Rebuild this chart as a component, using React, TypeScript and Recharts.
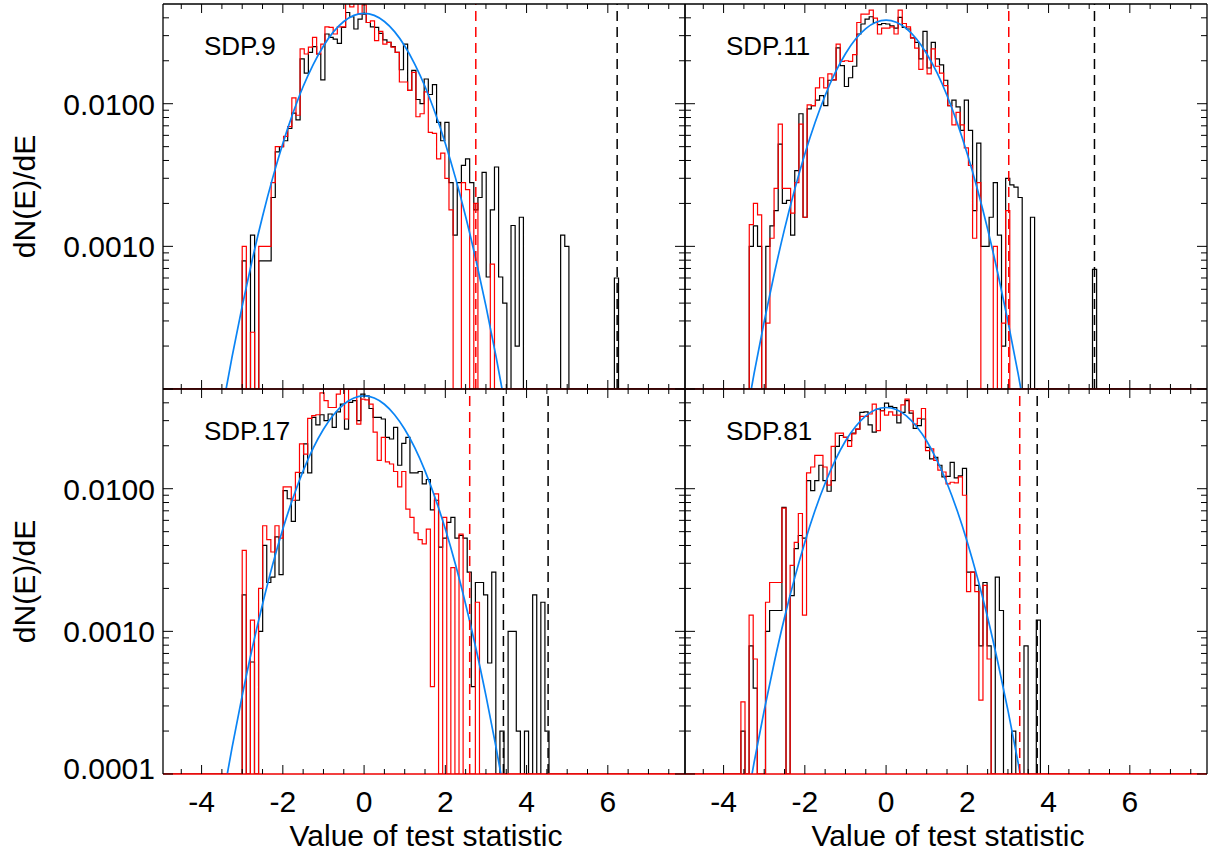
import { ComposedChart, Line, XAxis, YAxis, ReferenceLine } from 'recharts';

// figure geometry
const FIG_W = 1209;
const FIG_H = 853;
const PLOT_LEFT = 163;
const PLOT_TOP = 4;
const PLOT_W = 522;
const PLOT_H = 385;
const AX = 1; // axes need a non-zero size to render
const FONT = '"Liberation Sans", Arial, Helvetica, sans-serif';

const X_MIN = -4.95;
const X_MAX = 7.9;
const Y_MIN = 0.0001;
const Y_MAX = 0.05;
const FLOOR = 0.0001;

const X_TICKS = [-4.5, -4, -3.5, -3, -2.5, -2, -1.5, -1, -0.5, 0, 0.5, 1, 1.5, 2, 2.5, 3, 3.5, 4, 4.5, 5, 5.5, 6, 6.5, 7, 7.5];
const Y_TICKS = [
  0.0001, 0.0002, 0.0003, 0.0004, 0.0005, 0.0006, 0.0007, 0.0008, 0.0009,
  0.001, 0.002, 0.003, 0.004, 0.005, 0.006, 0.007, 0.008, 0.009,
  0.01, 0.02, 0.03, 0.04,
];

// x positions of the fitted curve
const FIT_X = [-3.5, -3.25, -3, -2.75, -2.5, -2.25, -2, -1.75, -1.5, -1.25, -1, -0.75, -0.5, -0.25, 0, 0.25, 0.5, 0.75, 1, 1.25, 1.5, 1.75, 2, 2.25, 2.5, 2.75, 3, 3.25, 3.5];

// ---- SDP.9 ----
const tlStart = -3.0;
const tlBin = 0.1018;
const tlBlack = [
  0.00079, 0, 0.0012, 0, 0.00079, 0.00079, 0.00079, 0.0022, 0.0046, 0.005,
  0.0055, 0.0067, 0.0086, 0.0077, 0.0206, 0.0164, 0.0229, 0.0251, 0.0223, 0.0147,
  0.0308, 0.0292, 0.0284, 0.0265, 0.0343, 0.0436, 0.0407, 0.0334, 0.0392, 0.0425,
  0.0371, 0.0346, 0.0343, 0.0311, 0.028, 0.0269, 0.0251, 0.0229, 0.0173, 0.0262,
  0.0124, 0.0171, 0.0107, 0.01, 0.0149, 0.0116, 0.0136, 0.0074, 0.0055, 0.0074,
  0.0028, 0.0012, 0.0028, 0.0037, 0.0041, 0.0028, 0.0018, 0.0022, 0.0033, 0.00061,
  0.0018, 0.0036, 0.00061, 0.0004, 0, 0.0014, 0.0002, 0.0016, 0, 0,
  0, 0, 0, 0, 0, 0, 0, 0.0012, 0.001, 0,
  0, 0, 0, 0, 0, 0, 0, 0, 0, 0, 0.0006,
];
const tlRed = [
  0.001, 0, 0.00025, 0, 0.001, 0.001, 0.001, 0.0028, 0.005, 0.005,
  0.0059, 0.0069, 0.011, 0.0083, 0.0242, 0.0223, 0.0249, 0.0292, 0.0223, 0.0262,
  0.0346, 0.0343, 0.0308, 0.0346, 0.0346, 0.0512, 0.0478, 0.055, 0.0425, 0.0493,
  0.0371, 0.0381, 0.0277, 0.0321, 0.0262, 0.0269, 0.0249, 0.0229, 0.0142, 0.0142,
  0.0124, 0.0166, 0.0081, 0.0085, 0.0121, 0.0063, 0.0062, 0.0041, 0.0045, 0.003,
  0.0018, 0, 0, 0.0028, 0.0025, 0, 0.002, 0, 0, 0,
  0.00075,
];
const tlFit = [
  0.0000693, 0.000168, 0.000381, 0.000812, 0.00162, 0.00302, 0.00527, 0.0086, 0.0132, 0.0189,
  0.0254, 0.032, 0.0377, 0.0416, 0.043, 0.0416, 0.0377, 0.032, 0.0254, 0.0189,
  0.0132, 0.0086, 0.00527, 0.00302, 0.00162, 0.000812, 0.000381, 0.000168, 0.0000693,
];

// ---- SDP.11 ----
const trStart = -3.368;
const trBin = 0.1018;
const trBlack = [
  0.001, 0.00139, 0.001, 0, 0.001, 0.00139, 0.00178, 0.0052, 0.002, 0.0021,
  0.0012, 0.0034, 0.0085, 0.0016, 0.0092, 0.0097, 0.0106, 0.0114, 0.0097, 0.0146,
  0.0147, 0.0246, 0.0185, 0.0132, 0.0152, 0.0183, 0.0308, 0.0362, 0.0392, 0.0407,
  0.0371, 0.0358, 0.0365, 0.0362, 0.0352, 0.0339, 0.0403, 0.0343, 0.0334, 0.0289,
  0.0269, 0.0206, 0.0321, 0.0178, 0.0269, 0.0206, 0.0187, 0.0146, 0.0097, 0.0106,
  0.0095, 0.0065, 0.0106, 0.0065, 0.00178, 0.0053, 0.001, 0.001, 0.0016, 0.0028,
  0.0012, 0.0002, 0.003, 0.0027, 0.0026, 0.0022, 0, 0, 0.0016, 0,
  0, 0, 0, 0, 0, 0, 0, 0, 0, 0,
  0, 0, 0, 0.00069,
];
const trRed = [
  0.00142, 0.002, 0.00166, 0, 0.00029, 0.00114, 0.00255, 0.0072, 0.00255, 0.00255,
  0.00171, 0.0028, 0.0072, 0.0016, 0.0098, 0.0097, 0.0129, 0.0152, 0.0129, 0.0162,
  0.0147, 0.0262, 0.0198, 0.02, 0.0198, 0.0221, 0.0371, 0.0425, 0.0425, 0.0453,
  0.0398, 0.0308, 0.0339, 0.0339, 0.0346, 0.0308, 0.0453, 0.0365, 0.0346, 0.0289,
  0.0245, 0.0174, 0.0236, 0.0162, 0.0242, 0.0183, 0.0164, 0.0134, 0.0097, 0.0071,
  0.0087, 0.0071, 0.0049, 0.0037, 0.00114, 0.0028, 0, 0, 0, 0.001,
  0, 0.00029, 0.00178,
];
const trFit = [
  0.0000515, 0.000128, 0.000298, 0.000648, 0.00132, 0.0025, 0.00444, 0.00736, 0.01142, 0.01655,
  0.0224, 0.0284, 0.0336, 0.0372, 0.0385, 0.0372, 0.0336, 0.0284, 0.0224, 0.01655,
  0.01142, 0.00736, 0.00444, 0.0025, 0.00132, 0.000648, 0.000298, 0.000128, 0.0000515,
];

// ---- SDP.17 ----
const blStart = -3.0;
const blBin = 0.1007;
const blBlack = [
  0.0018, 0, 0.00061, 0, 0.001, 0.004, 0.0022, 0.0024, 0.0046, 0.0025,
  0.0097, 0.0085, 0.0059, 0.0083, 0.0129, 0.0206, 0.0129, 0.0316, 0.028, 0.033,
  0.03, 0.0334, 0.0269, 0.0346, 0.0392, 0.0262, 0.0403, 0.0415, 0.03, 0.046,
  0.0448, 0.0365, 0.0316, 0.0316, 0.0308, 0.0229, 0.0223, 0.0269, 0.0146, 0.0208,
  0.0229, 0.0129, 0.0129, 0.0132, 0.0108, 0.0116, 0.0071, 0.0083, 0.0039, 0.0045,
  0.0058, 0.0063, 0.0045, 0.0047, 0.0045, 0.0026, 0.00041, 0.0022, 0.0022, 0.0018,
  0.0006, 0.0026, 0, 0.0002, 0, 0.001, 0.001, 0.0002, 0, 0.0002,
  0, 0.0018, 0, 0.0016, 0.0002,
];
const blRed = [
  0.0037, 0, 0.0012, 0, 0.002, 0.0055, 0.0044, 0.0036, 0.0055, 0.0045,
  0.0103, 0.0103, 0.0083, 0.013, 0.0206, 0.0175, 0.0311, 0.0325, 0.033, 0.047,
  0.0415, 0.0371, 0.0371, 0.046, 0.0512, 0.0308, 0.05, 0.055, 0.0284, 0.0425,
  0.042, 0.0392, 0.0249, 0.0158, 0.0229, 0.0154, 0.0149, 0.0132, 0.0103, 0.0132,
  0.0072, 0.0063, 0.0049, 0.0044, 0.0041, 0.0052, 0.00041, 0.0092, 0, 0.0063,
  0, 0.0028, 0, 0.0048, 0, 0, 0, 0.0016,
];
const blFit = [
  0.0000619, 0.000153, 0.000354, 0.000768, 0.00155, 0.00294, 0.00521, 0.00862, 0.01334, 0.0193,
  0.0261, 0.033, 0.0391, 0.0432, 0.0447, 0.0432, 0.0391, 0.033, 0.0261, 0.0193,
  0.01334, 0.00862, 0.00521, 0.00294, 0.00155, 0.000768, 0.000354, 0.000153, 0.0000619,
];

// ---- SDP.81 ----
const brStart = -3.574;
const brBin = 0.101;
const brBlack = [
  0.0002, 0, 0.00079, 0.0004, 0, 0, 0.001, 0.0014, 0.0014, 0.0014,
  0.0074, 0, 0.00178, 0.0038, 0.0047, 0.0045, 0.0114, 0.0097, 0.0114, 0.0146,
  0.0114, 0.0096, 0.0114, 0.0198, 0.0236, 0.0229, 0.0217, 0.0245, 0.0262, 0.0343,
  0.0346, 0.028, 0.0249, 0.0362, 0.0352, 0.0398, 0.0378, 0.0371, 0.0289, 0.0343,
  0.0415, 0.0339, 0.0265, 0.0277, 0.0308, 0.0195, 0.0162, 0.0166, 0.0146, 0.0121,
  0.0122, 0.0153, 0.0119, 0.0123, 0.0139, 0.0026, 0.0026, 0.0021, 0.00079, 0.0022,
  0.00079, 0, 0.0024, 0.0014, 0, 0, 0.0002, 0, 0, 0.00079,
  0, 0, 0.0012,
];
const brRed = [
  0.00032, 0, 0.0013, 0.00064, 0, 0, 0.0016, 0.0022, 0.0022, 0.0022,
  0.0073, 0, 0.0029, 0.0042, 0.0067, 0.0013, 0.0129, 0.0142, 0.0171, 0.0171,
  0.0142, 0.0106, 0.0198, 0.0245, 0.0245, 0.0229, 0.0198, 0.0242, 0.0262, 0.0321,
  0.0321, 0.0334, 0.0392, 0.0255, 0.0352, 0.0328, 0.0346, 0.0328, 0.0328, 0.0387,
  0.0425, 0.0352, 0.0284, 0.0311, 0.0365, 0.0185, 0.019, 0.0158, 0.0135, 0.0131,
  0.0108, 0.0111, 0.011, 0.0121, 0.009, 0.0019, 0.0026, 0.0019, 0.00033, 0.0021,
  0.00064,
];
const brFit = [
  0.0000478, 0.00012, 0.000279, 0.00061, 0.00125, 0.00237, 0.00422, 0.00703, 0.01093, 0.01588,
  0.0216, 0.0273, 0.0324, 0.0359, 0.0371, 0.0359, 0.0324, 0.0273, 0.0216, 0.01588,
  0.01093, 0.00703, 0.00422, 0.00237, 0.00125, 0.00061, 0.000279, 0.00012, 0.0000478,
];

const panels = [
  { name: 'SDP.9', col: 0, row: 0, start: tlStart, bin: tlBin, black: tlBlack, red: tlRed, fit: tlFit, redCuts: [2.75], blackCuts: [6.23] },
  { name: 'SDP.11', col: 1, row: 0, start: trStart, bin: trBin, black: trBlack, red: trRed, fit: trFit, redCuts: [3.02], blackCuts: [5.13] },
  { name: 'SDP.17', col: 0, row: 1, start: blStart, bin: blBin, black: blBlack, red: blRed, fit: blFit, redCuts: [2.6], blackCuts: [3.43, 4.53] },
  { name: 'SDP.81', col: 1, row: 1, start: brStart, bin: brBin, black: brBlack, red: brRed, fit: brFit, redCuts: [3.29], blackCuts: [3.72] },
];

function histRows(start: number, bin: number, vals: number[]) {
  const rows = [{ x: X_MIN, v: FLOOR }];
  vals.forEach((v, i) => rows.push({ x: start + i * bin, v: Math.max(v, FLOOR) }));
  rows.push({ x: start + vals.length * bin, v: FLOOR });
  rows.push({ x: X_MAX, v: FLOOR });
  return rows;
}

const frame = { stroke: '#000', strokeWidth: 1.3 };
// the empty red bins run along the bottom edge
const bottomFrame = { stroke: '#ee0000', strokeWidth: 1.3 };

function xTick(side: 'bottom' | 'top', showLabel: boolean) {
  return (p: any) => {
    const v = p.payload.value;
    const major = Math.abs(v % 2) < 1e-6;
    const len = major ? 9 : 5;
    const dir = side === 'bottom' ? -1 : 1;
    return (
      <g>
        <line x1={p.x} x2={p.x} y1={p.y} y2={p.y + dir * len} stroke="#000" strokeWidth={1} />
        {showLabel && major && (
          <text x={p.x} y={p.y + 38} textAnchor="middle" fontSize={30} fontFamily={FONT} fill="#000">{String(v)}</text>
        )}
      </g>
    );
  };
}

function yTick(side: 'left' | 'right', labels: number[]) {
  return (p: any) => {
    const v = p.payload.value;
    const lg = Math.log10(v);
    const major = Math.abs(lg - Math.round(lg)) < 1e-6;
    const len = major ? 10 : 6;
    const dir = side === 'left' ? 1 : -1;
    const show = labels.some(l => Math.abs(l - v) < 1e-9);
    // the lowest label sits a little above its tick
    const dy = v < 0.0002 ? 5 : 11;
    return (
      <g>
        <line x1={p.x} x2={p.x + dir * len} y1={p.y} y2={p.y} stroke="#000" strokeWidth={1} />
        {show && (
          <text x={p.x - 8} y={p.y + dy} textAnchor="end" fontSize={30} fontFamily={FONT} fill="#000">{v.toFixed(4)}</text>
        )}
      </g>
    );
  };
}

function Panel({ p }: { p: typeof panels[number] }) {
  const left = PLOT_LEFT + p.col * PLOT_W;
  const top = PLOT_TOP + p.row * PLOT_H;
  const margin = {
    left: left - AX,
    top: top - AX,
    right: FIG_W - left - PLOT_W - AX,
    bottom: FIG_H - top - PLOT_H - AX,
  };
  const blackRows = histRows(p.start, p.bin, p.black);
  const redRows = histRows(p.start, p.bin, p.red);
  const fitRows = FIT_X.map((x, i) => ({ x, v: p.fit[i] }));
  const yLabels = p.col === 0 ? (p.row === 1 ? [0.0001, 0.001, 0.01] : [0.001, 0.01]) : [];

  return (
    <div style={{ position: 'absolute', left: 0, top: 0 }}>
      <ComposedChart width={FIG_W} height={FIG_H} margin={margin}>
        <XAxis xAxisId="b" orientation="bottom" dataKey="x" type="number" domain={[X_MIN, X_MAX]} allowDataOverflow
          ticks={X_TICKS} interval={0} height={AX} tickSize={0} tickMargin={0} tickLine={false} axisLine={bottomFrame}
          tick={xTick('bottom', p.row === 1)} />
        <XAxis xAxisId="t" orientation="top" dataKey="x" type="number" domain={[X_MIN, X_MAX]} allowDataOverflow
          ticks={X_TICKS} interval={0} height={AX} tickSize={0} tickMargin={0} tickLine={false} axisLine={frame}
          tick={xTick('top', false)} />
        <YAxis yAxisId="l" orientation="left" type="number" scale="log" domain={[Y_MIN, Y_MAX]} allowDataOverflow
          ticks={Y_TICKS} interval={0} width={AX} tickSize={0} tickMargin={0} tickLine={false} axisLine={frame}
          tick={yTick('left', yLabels)} />
        <YAxis yAxisId="r" orientation="right" type="number" scale="log" domain={[Y_MIN, Y_MAX]} allowDataOverflow
          ticks={Y_TICKS} interval={0} width={AX} tickSize={0} tickMargin={0} tickLine={false} axisLine={frame}
          tick={yTick('right', [])} />
        <Line xAxisId="b" yAxisId="l" data={blackRows} dataKey="v" type="stepAfter" stroke="#000" strokeWidth={1.2}
          dot={false} activeDot={false} isAnimationActive={false} />
        <Line xAxisId="b" yAxisId="l" data={redRows} dataKey="v" type="stepAfter" stroke="#ff0000" strokeWidth={1.2}
          dot={false} activeDot={false} isAnimationActive={false} />
        <Line xAxisId="b" yAxisId="l" data={fitRows} dataKey="v" type="monotone" stroke="#0a84f5" strokeWidth={1.7}
          dot={false} activeDot={false} isAnimationActive={false} />
        {p.redCuts.map(c => (
          <ReferenceLine key={'r' + c} xAxisId="b" yAxisId="l" x={c} stroke="#ff0000" strokeWidth={1.5} strokeDasharray="10 6" />
        ))}
        {p.blackCuts.map(c => (
          <ReferenceLine key={'k' + c} xAxisId="b" yAxisId="l" x={c} stroke="#000" strokeWidth={1.5} strokeDasharray="10 6" />
        ))}
      </ComposedChart>
    </div>
  );
}

export default function App() {
  return (
    <div style={{ position: 'absolute', left: 0, top: 0, width: FIG_W, height: FIG_H, background: '#fff', overflow: 'hidden' }}>
      {panels.map(p => <Panel key={p.name} p={p} />)}
      <svg width={FIG_W} height={FIG_H} style={{ position: 'absolute', left: 0, top: 0, pointerEvents: 'none' }}>
        <g fontFamily={FONT} fill="#000">
          {panels.map(p => (
            <text key={p.name} x={PLOT_LEFT + p.col * PLOT_W + 41} y={PLOT_TOP + p.row * PLOT_H + 51} fontSize={26}>{p.name}</text>
          ))}
          {[0, 1].map(r => (
            <text key={'yt' + r} transform={`translate(35, ${PLOT_TOP + r * PLOT_H + PLOT_H / 2}) rotate(-90)`} textAnchor="middle" fontSize={30}>dN(E)/dE</text>
          ))}
          {[0, 1].map(c => (
            <text key={'xt' + c} x={PLOT_LEFT + c * PLOT_W + PLOT_W / 2 + 2} y={846} textAnchor="middle" fontSize={30}>Value of test statistic</text>
          ))}
        </g>
      </svg>
    </div>
  );
}
